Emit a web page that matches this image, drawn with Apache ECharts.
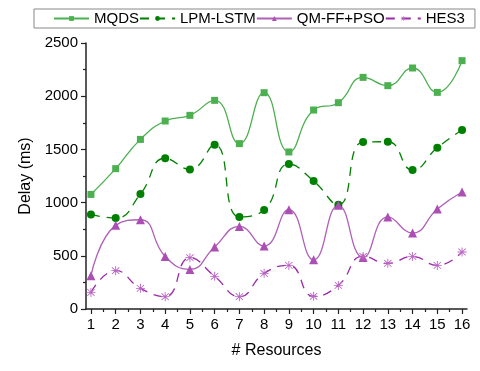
<!DOCTYPE html>
<html>
<head>
<meta charset="utf-8">
<script src="https://cdn.jsdelivr.net/npm/echarts@6/dist/echarts.min.js"></script>
<style>
  html, body { margin: 0; padding: 0; background: #fff; }
  #chart { width: 480px; height: 371px; }
</style>
</head>
<body>
<div id="chart"></div>
<script>
// data
const resources = [1, 2, 3, 4, 5, 6, 7, 8, 9, 10, 11, 12, 13, 14, 15, 16];
const mqds = [1077, 1319, 1594, 1767, 1820, 1961, 1554, 2033, 1476, 1870, 1939, 2177, 2099, 2265, 2036, 2334];
const lpmLstm = [889, 855, 1081, 1416, 1312, 1544, 865, 930, 1363, 1203, 980, 1570, 1572, 1306, 1516, 1682];
const qmFfPso = [313, 786, 839, 494, 372, 583, 776, 592, 933, 463, 974, 485, 865, 714, 940, 1100];
const hes3 = [156, 360, 194, 116, 482, 307, 116, 335, 410, 119, 222, 494, 429, 494, 410, 536];
const yTicks = [0, 500, 1000, 1500, 2000, 2500];

const font = 'Liberation Sans, Arial, sans-serif';
const pairs = vals => vals.map((v, i) => [resources[i], v]);
const halfTicks = resources.slice(0, -1).map(r => r + 0.5);

// asterisk marker (plus + cross)
const starPath = 'path://M9,0 L11,0 L11,8.6 L17.4,2.2 L18.8,3.6 L12.4,10 L20,10 L20,12 L12.4,12 L18.8,18.4 L17.4,19.8 L11,13.4 L11,22 L9,22 L9,13.4 L2.6,19.8 L1.2,18.4 L7.6,12 L0,12 L0,10 L7.6,10 L1.2,3.6 L2.6,2.2 L9,8.6 Z';

const chart = echarts.init(document.getElementById('chart'));
chart.setOption({
  animation: false,
  textStyle: { fontFamily: font },
  legend: {
    left: 34,
    top: 9,
    width: 414,
    padding: [2, 10, 2, 19],
    itemGap: 0,
    itemWidth: 35,
    itemHeight: 6,
    borderColor: '#888',
    borderWidth: 1,
    textStyle: { fontSize: 15, color: '#000', fontFamily: font }
  },
  grid: { left: 86, right: 13, top: 43, bottom: 62 },
  xAxis: [
    {
      type: 'value',
      min: 0.8,
      max: 16.2,
      name: '# Resources',
      nameLocation: 'middle',
      nameGap: 34,
      nameTextStyle: { fontSize: 16, color: '#000' },
      axisLine: { lineStyle: { color: '#222', width: 1.5 } },
      axisTick: { customValues: resources, length: 5, lineStyle: { color: '#222', width: 1.2 } },
      axisLabel: { customValues: resources, fontSize: 15, color: '#000', margin: 8 },
      splitLine: { show: false }
    },
    {
      type: 'value',
      min: 0.8,
      max: 16.2,
      position: 'bottom',
      axisLine: { show: false },
      axisTick: { customValues: halfTicks, length: 3, lineStyle: { color: '#222', width: 1.2 } },
      axisLabel: { show: false },
      splitLine: { show: false }
    }
  ],
  yAxis: {
    type: 'value',
    min: 0,
    max: 2500,
    interval: 500,
    name: 'Delay (ms)',
    nameLocation: 'middle',
    nameGap: 45,
    nameTextStyle: { fontSize: 16, color: '#000' },
    axisLine: { show: true, lineStyle: { color: '#222', width: 1.5 } },
    axisTick: { show: true, length: 5, lineStyle: { color: '#222', width: 1.2 } },
    minorTick: { show: true, splitNumber: 2, length: 3, lineStyle: { color: '#222', width: 1.2 } },
    axisLabel: { fontSize: 15, color: '#000', margin: 8, customValues: yTicks, formatter: v => String(v) },
    splitLine: { show: false }
  },
  series: [
    {
      name: 'MQDS',
      type: 'line',
      smooth: 0.5,
      data: pairs(mqds),
      symbol: 'rect',
      symbolSize: 7,
      itemStyle: { color: '#4caf50' },
      lineStyle: { color: '#4caf50', width: 1.3 }
    },
    {
      name: 'LPM-LSTM',
      type: 'line',
      smooth: 0.5,
      data: pairs(lpmLstm),
      symbol: 'circle',
      symbolSize: 8,
      itemStyle: { color: '#008000' },
      lineStyle: { color: '#008000', width: 1.3, type: [9, 7] }
    },
    {
      name: 'QM-FF+PSO',
      type: 'line',
      smooth: 0.5,
      data: pairs(qmFfPso),
      symbol: 'triangle',
      symbolSize: 9,
      itemStyle: { color: '#ac4fb4' },
      lineStyle: { color: '#b060b8', width: 1.3 }
    },
    {
      name: 'HES3',
      type: 'line',
      smooth: 0.5,
      data: pairs(hes3),
      symbol: starPath,
      symbolSize: 9,
      itemStyle: { color: '#bb66c4' },
      lineStyle: { color: '#9a2aa8', width: 1.3, type: [9, 7] }
    }
  ]
});
</script>
</body>
</html>
